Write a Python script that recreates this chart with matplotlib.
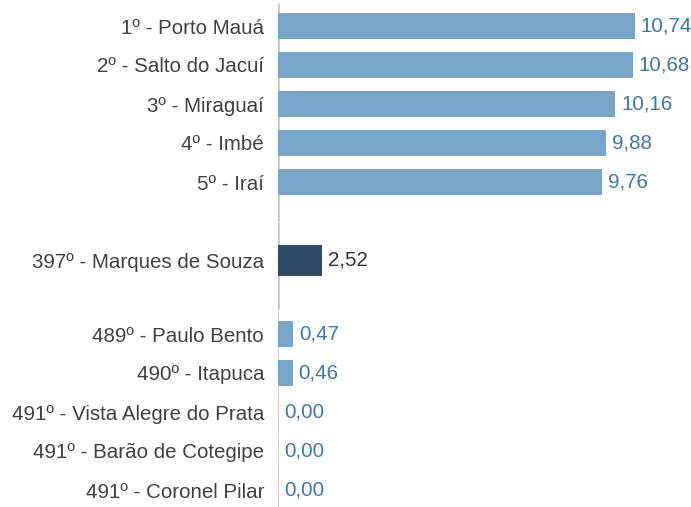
import matplotlib
matplotlib.use("Agg")
import matplotlib.pyplot as plt
from matplotlib.transforms import offset_copy

plt.rcParams['font.family'] = ['Liberation Sans', 'DejaVu Sans']

# Top five municipalities
top_labels = ["1º - Porto Mauá", "2º - Salto do Jacuí", "3º - Miraguaí", "4º - Imbé", "5º - Iraí"]
top_values = [10.74, 10.68, 10.16, 9.88, 9.76]

# Highlighted municipality
mid_labels = ["397º - Marques de Souza"]
mid_values = [2.52]

# Bottom five municipalities
bottom_labels = ["489º - Paulo Bento", "490º - Itapuca", "491º - Vista Alegre do Prata",
                 "491º - Barão de Cotegipe", "491º - Coronel Pilar"]
bottom_values = [0.47, 0.46, 0.00, 0.00, 0.00]

W, H = 691, 507
LIGHT = "#77A5C8"
DARK = "#2D4A67"
VAL_BLUE = "#3E78AA"
TXT = "#404040"
AXIS = "#C6C6C6"
FS = 14.75

fig = plt.figure(figsize=(W / 100, H / 100), dpi=100)


def fmt(v):
    return f"{v:.2f}".replace(".", ",")


def panel(y_top, y_bot, first_center, labels, values, xmax, color, val_color, height, line_shift):
    ax = fig.add_axes([278 / W, 1 - y_bot / H, (W - 278) / W, (y_bot - y_top) / H])
    n = len(values)
    rows = list(range(n))
    bars = ax.barh(rows, values, height=height, color=color, zorder=3)
    ax.set_xlim(0, xmax)
    ax.set_ylim((y_bot - first_center) / 39, (y_top - first_center) / 39)
    ax.set_yticks(rows)
    ax.set_yticklabels(labels, fontsize=FS, color=TXT)
    ax.tick_params(axis="y", length=0, pad=10)
    ax.set_xticks([])
    for s in ax.spines.values():
        s.set_visible(False)
    tr = offset_copy(ax.transData, fig=fig, x=line_shift, y=0, units="dots")
    ax.plot([0, 0], [ax.get_ylim()[0], ax.get_ylim()[1]], color=AXIS, lw=1.9,
            transform=tr, zorder=2, solid_capstyle="butt")
    ax.bar_label(bars, labels=[fmt(v) for v in values], padding=4.3,
                 fontsize=FS, color=val_color)
    ax.patch.set_alpha(0)
    return ax


panel(3, 222, 26, top_labels, top_values, 12.44, LIGHT, VAL_BLUE, 0.69, -0.5)
panel(222, 310, 260.5, mid_labels, mid_values, 23.8, DARK, "#333333", 0.79, -0.5)
panel(310, 507, 334, bottom_labels, bottom_values, 12.9, LIGHT, VAL_BLUE, 0.69, -1.5)

fig.savefig("out.png", dpi=100)
